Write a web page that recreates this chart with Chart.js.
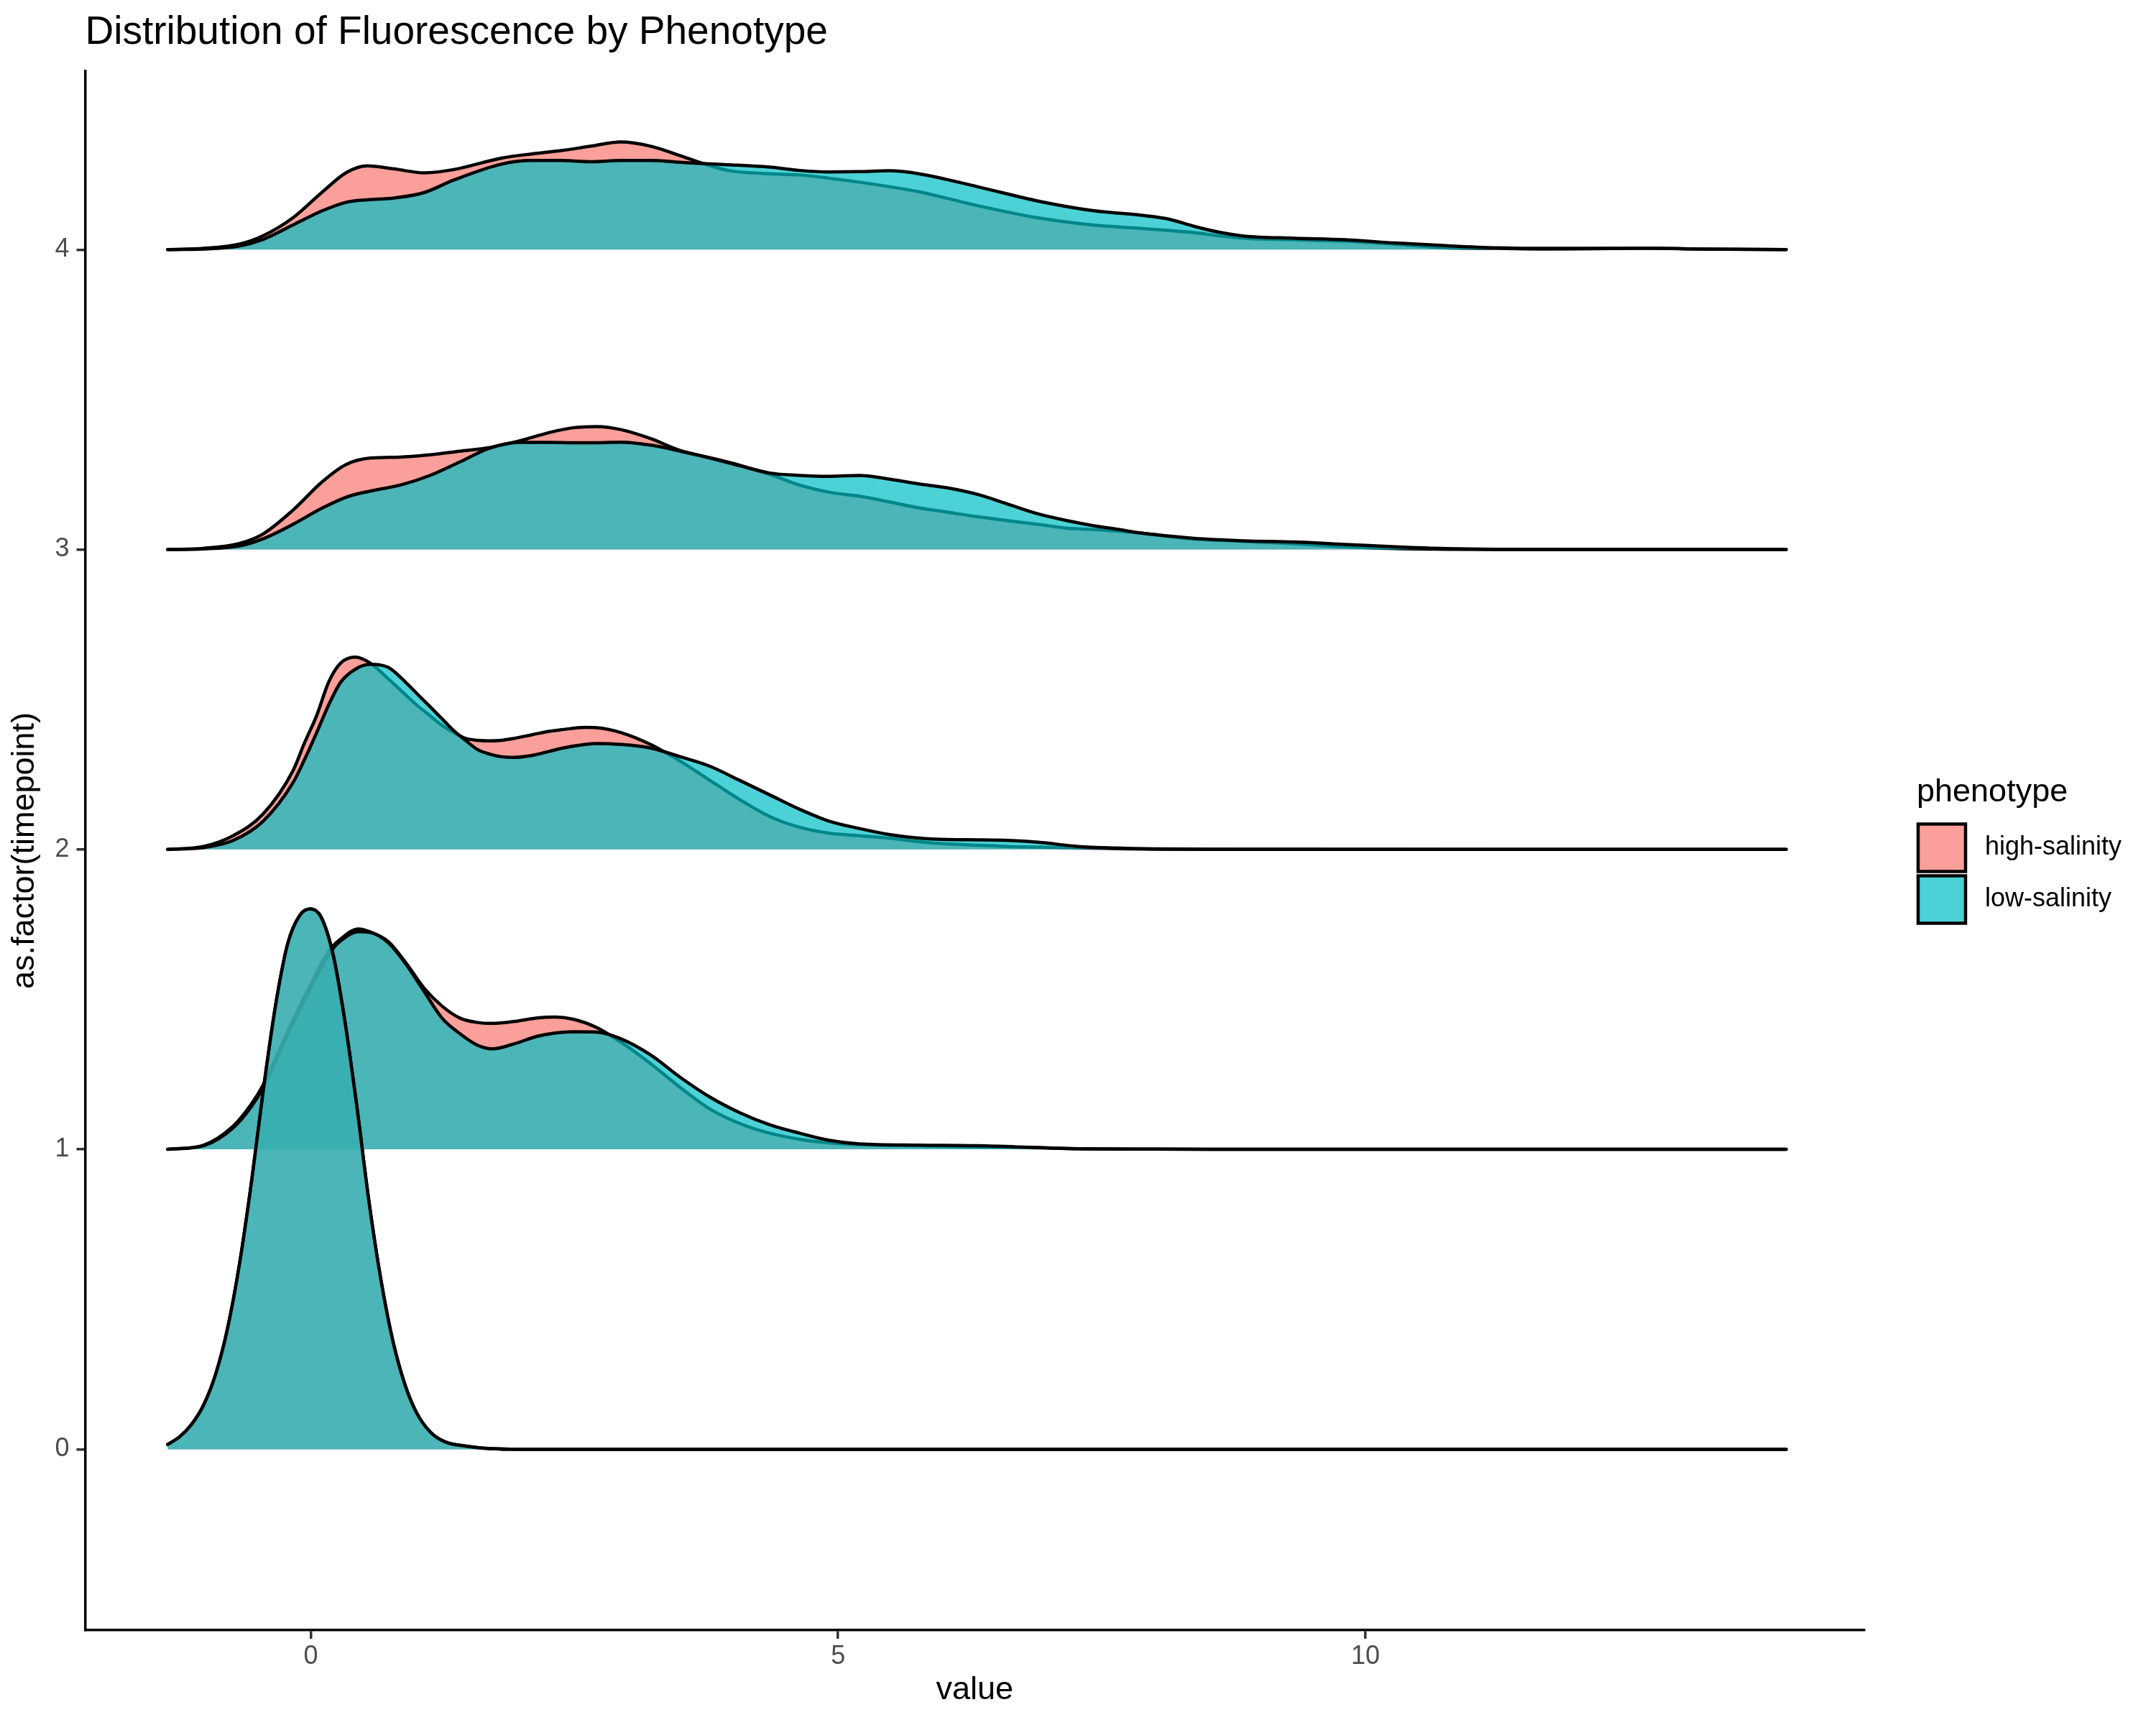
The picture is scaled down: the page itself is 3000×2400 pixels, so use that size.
<!DOCTYPE html>
<html>
<head>
<meta charset="utf-8">
<title>Distribution of Fluorescence by Phenotype</title>
<script src="https://cdn.jsdelivr.net/npm/chart.js@4.4.1/dist/chart.umd.min.js"></script>
<style>
  html, body { margin: 0; padding: 0; background: #ffffff; }
  #wrap { width: 3000px; height: 2400px; }
</style>
</head>
<body>
<div id="wrap"><canvas id="ridges" width="3000" height="2400"></canvas></div>
<script>
const phenotypes = ["high-salinity", "low-salinity"];
const fills = ["rgba(248, 118, 109, 0.7)", "rgba(0, 191, 196, 0.7)"];
const timepoints = [0, 1, 2, 3, 4];
const xTicks = [0, 5, 10];
const yTicks = [0, 1, 2, 3, 4];

// density height above each ridge baseline
const x0 = [-1.358, -1.243, -1.129, -1.015, -0.902, -0.788, -0.675, -0.561, -0.447, -0.334, -0.220, -0.106, -0.004, 0.098, 0.211, 0.325, 0.439, 0.552, 0.666, 0.780, 0.893, 1.007, 1.143, 1.279, 1.483, 1.711, 1.961, 3.0, 13.99];
const high0 = [0.016, 0.042, 0.084, 0.149, 0.251, 0.406, 0.621, 0.896, 1.207, 1.481, 1.685, 1.780, 1.802, 1.774, 1.649, 1.422, 1.135, 0.824, 0.562, 0.358, 0.215, 0.119, 0.054, 0.024, 0.010, 0.002, 0, 0, 0];
const low0 = [0.016, 0.042, 0.084, 0.149, 0.251, 0.406, 0.621, 0.896, 1.207, 1.481, 1.685, 1.780, 1.802, 1.774, 1.649, 1.422, 1.135, 0.824, 0.562, 0.358, 0.215, 0.119, 0.054, 0.024, 0.010, 0.002, 0, 0, 0];

const x1 = [-1.358, -1.018, -0.736, -0.566, -0.453, -0.340, -0.170, -0.001, 0.169, 0.282, 0.451, 0.564, 0.734, 0.903, 1.073, 1.243, 1.412, 1.581, 1.723, 1.921, 2.147, 2.316, 2.486, 2.712, 2.938, 3.221, 3.504, 3.786, 4.069, 4.351, 4.634, 4.917, 5.199, 5.765, 6.330, 6.895, 7.279, 7.8, 8.5, 13.99];
const high1 = [0, 0.014, 0.078, 0.150, 0.214, 0.300, 0.430, 0.549, 0.661, 0.701, 0.735, 0.725, 0.693, 0.621, 0.538, 0.478, 0.438, 0.423, 0.420, 0.426, 0.438, 0.441, 0.434, 0.406, 0.358, 0.286, 0.206, 0.134, 0.086, 0.054, 0.034, 0.022, 0.016, 0.012, 0.008, 0.005, 0.002, 0.001, 0, 0];
const low1 = [0, 0.012, 0.072, 0.142, 0.205, 0.290, 0.420, 0.540, 0.650, 0.695, 0.726, 0.723, 0.689, 0.617, 0.527, 0.438, 0.386, 0.347, 0.335, 0.351, 0.377, 0.388, 0.392, 0.391, 0.369, 0.315, 0.240, 0.174, 0.122, 0.082, 0.054, 0.030, 0.018, 0.014, 0.012, 0.006, 0.002, 0.001, 0, 0];

const x2 = [-1.358, -1.018, -0.736, -0.453, -0.170, -0.057, 0.056, 0.169, 0.282, 0.423, 0.564, 0.734, 0.903, 1.016, 1.130, 1.243, 1.356, 1.469, 1.581, 1.695, 1.808, 1.921, 2.091, 2.260, 2.373, 2.599, 2.712, 2.938, 3.221, 3.504, 3.786, 4.069, 4.351, 4.634, 4.917, 5.199, 5.482, 5.765, 6.047, 6.330, 6.612, 6.895, 7.279, 7.6, 8.0, 8.5, 13.99];
const high2 = [0, 0.010, 0.046, 0.118, 0.262, 0.358, 0.447, 0.558, 0.621, 0.641, 0.621, 0.569, 0.514, 0.478, 0.446, 0.414, 0.390, 0.370, 0.364, 0.362, 0.364, 0.370, 0.382, 0.394, 0.399, 0.407, 0.406, 0.390, 0.350, 0.294, 0.230, 0.166, 0.110, 0.074, 0.054, 0.046, 0.038, 0.026, 0.018, 0.014, 0.010, 0.008, 0.005, 0.003, 0.001, 0, 0];
const low2 = [0, 0.006, 0.030, 0.094, 0.222, 0.302, 0.390, 0.482, 0.557, 0.601, 0.617, 0.607, 0.556, 0.516, 0.476, 0.436, 0.396, 0.363, 0.333, 0.318, 0.309, 0.307, 0.313, 0.327, 0.337, 0.350, 0.353, 0.350, 0.338, 0.309, 0.277, 0.230, 0.182, 0.134, 0.094, 0.070, 0.050, 0.038, 0.033, 0.032, 0.030, 0.024, 0.010, 0.005, 0.002, 0.001, 0];

const x3 = [-1.358, -1.018, -0.679, -0.453, -0.170, 0.112, 0.338, 0.564, 0.847, 1.130, 1.412, 1.695, 1.978, 2.260, 2.486, 2.712, 2.938, 3.221, 3.504, 3.786, 4.069, 4.351, 4.634, 4.917, 5.199, 5.482, 5.765, 6.047, 6.330, 6.612, 6.895, 7.176, 7.415, 7.654, 7.893, 8.133, 8.372, 8.850, 9.328, 9.806, 10.285, 10.763, 11.241, 13.99];
const high3 = [0, 0.004, 0.020, 0.052, 0.131, 0.227, 0.284, 0.305, 0.308, 0.316, 0.328, 0.340, 0.362, 0.390, 0.406, 0.410, 0.400, 0.370, 0.330, 0.306, 0.281, 0.251, 0.215, 0.191, 0.178, 0.159, 0.139, 0.124, 0.109, 0.096, 0.084, 0.071, 0.067, 0.061, 0.054, 0.044, 0.035, 0.027, 0.019, 0.009, 0.003, 0.001, 0, 0];
const low3 = [0, 0.002, 0.012, 0.036, 0.084, 0.139, 0.175, 0.195, 0.215, 0.247, 0.292, 0.338, 0.357, 0.357, 0.356, 0.356, 0.358, 0.348, 0.328, 0.305, 0.279, 0.255, 0.247, 0.244, 0.247, 0.235, 0.219, 0.205, 0.183, 0.151, 0.119, 0.096, 0.080, 0.067, 0.054, 0.045, 0.037, 0.029, 0.025, 0.017, 0.009, 0.003, 0.001, 0];

const x4 = [-1.358, -1.018, -0.679, -0.453, -0.170, 0.112, 0.338, 0.536, 0.791, 1.073, 1.356, 1.808, 2.091, 2.373, 2.656, 2.938, 3.221, 3.504, 3.702, 3.956, 4.351, 4.634, 4.917, 5.199, 5.482, 5.765, 6.330, 6.895, 7.415, 7.893, 8.133, 8.372, 8.611, 8.850, 9.328, 9.806, 10.285, 10.763, 11.241, 11.719, 12.197, 12.675, 13.153, 13.99];
const high4 = [0, 0.004, 0.018, 0.046, 0.106, 0.193, 0.257, 0.279, 0.269, 0.256, 0.267, 0.305, 0.319, 0.330, 0.345, 0.359, 0.345, 0.313, 0.289, 0.264, 0.253, 0.249, 0.238, 0.225, 0.210, 0.193, 0.146, 0.106, 0.082, 0.070, 0.064, 0.057, 0.046, 0.038, 0.033, 0.028, 0.018, 0.006, 0.004, 0.002, 0.003, 0.004, 0.002, 0];
const low4 = [0, 0.002, 0.012, 0.034, 0.082, 0.130, 0.158, 0.166, 0.172, 0.190, 0.232, 0.285, 0.297, 0.297, 0.293, 0.297, 0.297, 0.291, 0.287, 0.283, 0.275, 0.264, 0.259, 0.260, 0.263, 0.253, 0.209, 0.162, 0.130, 0.114, 0.102, 0.078, 0.058, 0.045, 0.038, 0.033, 0.022, 0.013, 0.006, 0.004, 0.004, 0.005, 0.002, 0];

const ridgeX = [x0, x1, x2, x3, x4];
const ridgeHigh = [high0, high1, high2, high3, high4];
const ridgeLow = [low0, low1, low2, low3, low4];

Chart.defaults.font.family = '"Liberation Sans", Arial, Helvetica, sans-serif';

function toPoints(xs, hs, base) {
  return xs.map((x, i) => ({ x: x, y: base + hs[i] }));
}

// higher ridges first, high-salinity under low-salinity
const datasets = [];
timepoints.forEach((t, k) => {
  [ridgeHigh[k], ridgeLow[k]].forEach((hs, p) => {
    datasets.push({
      label: phenotypes[p],
      data: toPoints(ridgeX[k], hs, t),
      borderColor: '#000000',
      borderWidth: 4.5,
      borderJoinStyle: 'round',
      borderCapStyle: 'round',
      backgroundColor: fills[p],
      fill: { value: t },
      pointRadius: 0,
      cubicInterpolationMode: 'monotone',
      order: 2 * t + (p === 0 ? 1 : 0)
    });
  });
});

const phenotypeLegend = {
  id: 'phenotypeLegend',
  afterDraw(chart) {
    const ctx = chart.ctx;
    const area = chart.chartArea;
    const left = area.right + 73;
    const mid = (area.top + area.bottom) / 2;
    ctx.save();
    ctx.fillStyle = '#000000';
    ctx.font = '45px "Liberation Sans", Arial, sans-serif';
    ctx.textBaseline = 'alphabetic';
    ctx.textAlign = 'left';
    ctx.fillText('phenotype', left, mid - 69);
    phenotypes.forEach((name, i) => {
      const top = mid - 39 + i * 72;
      ctx.fillStyle = '#ffffff';
      ctx.fillRect(left, top, 70, 70);
      ctx.fillStyle = fills[i];
      ctx.fillRect(left + 2, top + 2, 66, 66);
      ctx.strokeStyle = '#000000';
      ctx.lineWidth = 4.5;
      ctx.strokeRect(left + 2, top + 2, 66, 66);
      ctx.fillStyle = '#000000';
      ctx.font = '36px "Liberation Sans", Arial, sans-serif';
      ctx.textBaseline = 'middle';
      ctx.fillText(name, left + 95, top + 35);
    });
    ctx.restore();
  }
};

const axisGrid = {
  display: true,
  drawOnChartArea: false,
  drawTicks: true,
  tickLength: 12,
  lineWidth: 3.5,
  tickWidth: 3.5,
  tickColor: '#333333'
};

const config = {
  type: 'line',
  data: { datasets: datasets },
  options: {
    responsive: false,
    animation: false,
    devicePixelRatio: 1,
    layout: { padding: { left: 0, right: 406, top: 0, bottom: 0 } },
    plugins: {
      legend: { display: false },
      tooltip: { enabled: false },
      title: {
        display: true,
        text: 'Distribution of Fluorescence by Phenotype',
        align: 'start',
        fullSize: false,
        color: '#000000',
        font: { size: 55, weight: 'normal' },
        padding: { top: 13, bottom: 20 }
      }
    },
    scales: {
      x: {
        type: 'linear',
        min: -2.14,
        max: 14.73,
        afterBuildTicks: (axis) => { axis.ticks = xTicks.map(v => ({ value: v })); },
        afterFit: (axis) => { axis.height = 132; },
        ticks: { color: '#4d4d4d', font: { size: 36 }, padding: 3, maxRotation: 0 },
        grid: axisGrid,
        border: { display: true, color: '#000000', width: 3.5 },
        title: { display: true, text: 'value', color: '#000000', font: { size: 45 }, padding: { top: 0, bottom: 21 } }
      },
      y: {
        type: 'linear',
        min: -0.603,
        max: 4.595,
        afterBuildTicks: (axis) => { axis.ticks = yTicks.map(v => ({ value: v })); },
        afterFit: (axis) => { axis.width = 118.5; },
        ticks: { color: '#4d4d4d', font: { size: 36 }, padding: 10 },
        grid: axisGrid,
        border: { display: true, color: '#000000', width: 3.5 },
        title: { display: true, text: 'as.factor(timepoint)', color: '#000000', font: { size: 45 }, padding: { top: 8, bottom: 0 } }
      }
    }
  },
  plugins: [phenotypeLegend]
};

const ridgeChart = new Chart(document.getElementById('ridges'), config);
</script>
</body>
</html>
